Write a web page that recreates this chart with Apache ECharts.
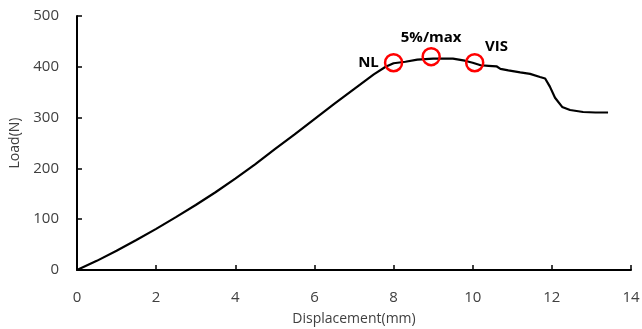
<!DOCTYPE html>
<html>
<head>
<meta charset="utf-8">
<script src="https://cdn.jsdelivr.net/npm/echarts@6/dist/echarts.min.js"></script>
<style>
html,body{margin:0;padding:0;background:#fff;}
#chart{width:642px;height:329px;}
</style>
</head>
<body>
<div id="chart"></div>
<script>
var displacement = [0, 0.5, 1, 1.5, 2, 2.5, 3, 3.5, 4, 4.5, 5, 5.5, 6, 6.5, 7, 7.5, 7.8, 8, 8.3, 8.6, 9, 9.5, 9.8, 10, 10.2, 10.4, 10.6, 10.7, 10.9, 11.2, 11.45, 11.7, 11.83, 11.95, 12.08, 12.26, 12.46, 12.79, 13.1, 13.42];
var load = [0, 18, 38, 59, 81, 104, 128, 153, 180, 208, 238, 267, 297, 327, 356, 385, 400, 407, 410, 414, 416, 416, 412, 408, 403, 402, 401, 396, 393, 389, 386, 380, 377, 361, 339, 321, 315, 311, 310, 310];
var markNames = ['NL', '5%/max', 'VIS'];
var markX = [8.0, 8.95, 10.05];
var markY = [408, 420, 408];

var myChart = echarts.init(document.getElementById('chart'));
var font = '"Open Sans", "Noto Sans", sans-serif';
var labelPos = [
    {position: 'left', distance: 5},
    {position: 'top', distance: 2},
    {position: [20, -14]}
];
var option = {
    animation: false,
    grid: {left: 77, right: 11, top: 16, bottom: 59, containLabel: false, outerBoundsMode: 'none'},
    xAxis: {
        type: 'value',
        min: 0, max: 14, interval: 2,
        name: 'Displacement(mm)',
        nameLocation: 'middle',
        nameGap: 42,
        nameTextStyle: {color: '#404040', fontSize: 14, fontFamily: font},
        axisLine: {show: true, lineStyle: {color: '#000', width: 2}},
        axisTick: {show: true, inside: true, length: 5, lineStyle: {color: '#000', width: 1.5}},
        axisLabel: {color: '#404040', fontSize: 15, fontFamily: font, margin: 20},
        splitLine: {show: false}
    },
    yAxis: {
        type: 'value',
        min: 0, max: 500, interval: 100,
        name: 'Load(N)',
        nameLocation: 'middle',
        nameGap: 52,
        nameTextStyle: {color: '#404040', fontSize: 14, fontFamily: font},
        axisLine: {show: true, lineStyle: {color: '#000', width: 2}},
        axisTick: {show: true, inside: true, length: 5, lineStyle: {color: '#000', width: 1.5}},
        axisLabel: {color: '#404040', fontSize: 15, fontFamily: font, margin: 18},
        splitLine: {show: false}
    },
    series: [
        {
            type: 'line',
            data: displacement.map(function (d, i) { return [d, load[i]]; }),
            showSymbol: false,
            lineStyle: {color: '#000', width: 2.2}
        },
        {
            type: 'scatter',
            symbol: 'circle',
            symbolSize: 17,
            z: 5,
            itemStyle: {color: 'rgba(0,0,0,0)', opacity: 1, borderColor: '#ff0000', borderWidth: 2.5},
            data: markNames.map(function (n, i) {
                return {
                    value: [markX[i], markY[i]],
                    name: n,
                    label: Object.assign({
                        show: true,
                        formatter: n,
                        color: '#000',
                        fontSize: 15,
                        fontWeight: 'bold',
                        fontFamily: font
                    }, labelPos[i])
                };
            })
        }
    ]
};
myChart.setOption(option);
</script>
</body>
</html>
